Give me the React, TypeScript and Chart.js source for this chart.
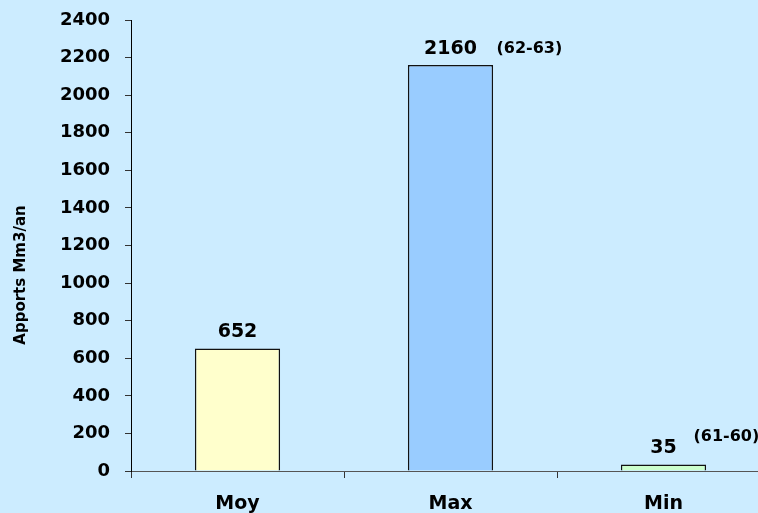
import React, { useEffect, useRef } from "react";
import { Chart, registerables } from "chart.js";

Chart.register(...registerables);

const categories = ["Moy", "Max", "Min"];
const values = [652, 2160, 35];
const periods = ["", "(62-63)", "(61-60)"];
const barColors = ["#FFFFCC", "#99CCFF", "#CCFFCC"];
const yTitle = "Apports Mm3/an";
const yMin = 0;
const yMax = 2400;
const yStep = 200;

const FONT = "'DejaVu Sans', Verdana, sans-serif";
// layout constants (pixel offsets for the period notes, relative to the bar top/centre)
const periodOffsets = [
  { dx: 0, dy: 0 },
  { dx: 46, dy: -12 },
  { dx: 30, dy: -23 },
];

const labelPlugin = {
  id: "valueLabels",
  afterDatasetsDraw(chart: any) {
    const ctx = chart.ctx as CanvasRenderingContext2D;
    const meta = chart.getDatasetMeta(0);
    ctx.save();
    ctx.fillStyle = "#000";
    meta.data.forEach((bar: any, i: number) => {
      ctx.font = `bold 19px ${FONT}`;
      ctx.textAlign = "center";
      ctx.textBaseline = "alphabetic";
      ctx.fillText(String(values[i]), bar.x, bar.y - 11);
      if (periods[i]) {
        ctx.font = `bold 16px ${FONT}`;
        ctx.textAlign = "left";
        ctx.fillText(periods[i], bar.x + periodOffsets[i].dx, bar.y + periodOffsets[i].dy);
      }
    });
    ctx.translate(21, 275);
    ctx.rotate(-Math.PI / 2);
    ctx.font = `bold 15px ${FONT}`;
    ctx.textAlign = "center";
    ctx.textBaseline = "middle";
    ctx.fillText(yTitle, 0, 0);
    ctx.restore();
  },
};

export default function App() {
  const ref = useRef<HTMLCanvasElement>(null);
  useEffect(() => {
    if (!ref.current) return;
    const chart = new Chart(ref.current, {
      type: "bar",
      data: {
        labels: categories,
        datasets: [
          {
            data: values,
            backgroundColor: barColors,
            borderColor: "#111",
            borderWidth: 1.5,
            barPercentage: 0.4,
            categoryPercentage: 1,
          },
        ],
      },
      options: {
        animation: false,
        responsive: false,
        devicePixelRatio: 1,
        layout: { padding: { top: 20, left: 0, right: 0, bottom: 0 } },
        plugins: {
          legend: { display: false },
          tooltip: { enabled: false },
        },
        scales: {
          x: {
            afterFit: (s: any) => {
              s.height = 42;
              s.paddingLeft = 0;
              s.paddingRight = 0;
            },
            grid: {
              drawOnChartArea: false,
              drawTicks: true,
              tickLength: 7,
              color: "#333",
              offset: true,
            },
            border: { display: true, color: "#555", width: 1 },
            ticks: {
              color: "#000",
              padding: 15,
              font: { family: FONT, size: 19, weight: "bold" },
            },
          },
          y: {
            min: yMin,
            max: yMax,
            afterFit: (s: any) => {
              s.width = 131;
              s.paddingTop = 0;
              s.paddingBottom = 0;
            },
            grid: {
              drawOnChartArea: false,
              drawTicks: true,
              tickLength: 6,
              color: "#333",
            },
            border: { display: true, color: "#000", width: 1 },
            ticks: {
              stepSize: yStep,
              color: "#000",
              padding: 15,
              font: { family: FONT, size: 18, weight: "bold" },
              callback: (v: any) => String(v),
            },
          },
        },
      },
      plugins: [labelPlugin],
    } as any);
    return () => chart.destroy();
  }, []);
  return (
    <div
      style={{
        position: "fixed",
        left: 0,
        top: 0,
        width: 758,
        height: 513,
        overflow: "hidden",
        background: "#CCECFF",
      }}
    >
      <canvas ref={ref} width={770} height={513} style={{ display: "block" }} />
    </div>
  );
}
